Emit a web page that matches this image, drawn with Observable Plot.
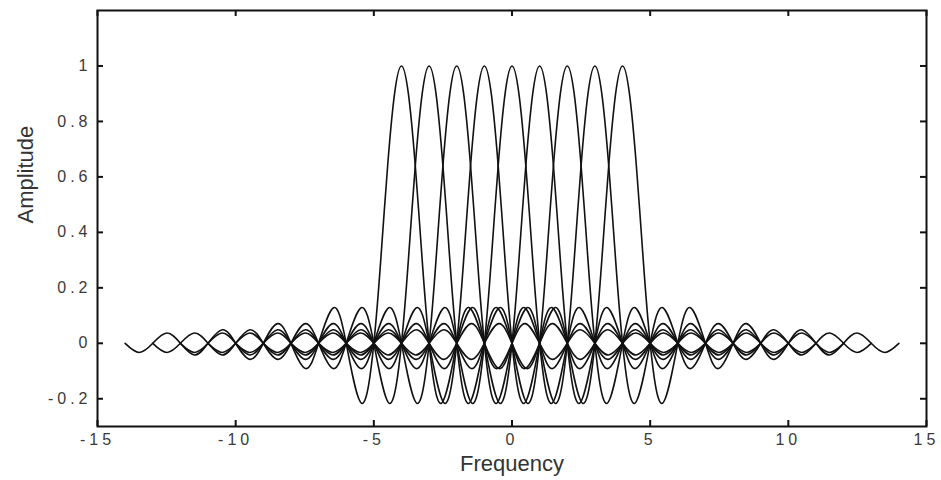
<!DOCTYPE html>
<html>
<head>
<meta charset="utf-8">
<script src="https://cdn.jsdelivr.net/npm/d3@7"></script>
<script src="https://cdn.jsdelivr.net/npm/@observablehq/plot@0.6"></script>
<style>
  html, body { margin: 0; padding: 0; background: #fff; }
  g[aria-description="tick label"] text { letter-spacing: 4px; }
</style>
</head>
<body>
<div id="chart"></div>
<script>
// Sub-carrier centre frequencies (peaks at amplitude 1)
const centers = [-4, -3, -2, -1, 0, 1, 2, 3, 4];

// One-sided shape of each sub-carrier: offset from centre -> amplitude
const lobeOffsets    = [0, 0.25, 0.5, 0.75, 1, 1.43, 2, 2.46, 3, 3.47, 4, 4.48, 5, 5.48, 6, 6.48, 7, 7.49, 8, 8.49, 9, 9.49, 10];
const lobeAmplitudes = [1, 0.90, 0.64, 0.30, 0, -0.217, 0, 0.128, 0, -0.091, 0, 0.071, 0, -0.058, 0, 0.049, 0, -0.042, 0, 0.037, 0, -0.033, 0];

// Axis ticks
const xTicks = [-15, -10, -5, 0, 5, 10, 15];
const xTickLabels = ["-15", "-10", "-5", "0", "5", "10", "15"];
const yTicks = [-0.2, 0, 0.2, 0.4, 0.6, 0.8, 1];
const yTickLabels = ["-0.2", "0", "0.2", "0.4", "0.6", "0.8", "1"];

// Mirror the one-sided shape into a full symmetric curve
const shapeOffsets = [...lobeOffsets.slice(1).map(o => -o).reverse(), ...lobeOffsets];
const shapeAmps = [...lobeAmplitudes.slice(1).reverse(), ...lobeAmplitudes];

const rows = centers.flatMap(c => shapeOffsets.map((o, i) => ({carrier: c, f: c + o, a: shapeAmps[i]})));

const font = "'Liberation Sans', Arial, sans-serif";
const W = 941, H = 480, ML = 97, MR = 15, MT = 10, MB = 54;
const TICK = 6;
const frameW = W - ML - MR, frameH = H - MT - MB;

const chart = Plot.plot({
  width: W,
  height: H,
  marginLeft: ML,
  marginRight: MR,
  marginTop: MT,
  marginBottom: MB,
  style: {fontFamily: font, background: "#fff"},
  x: {domain: [-15, 15], axis: null},
  y: {domain: [-0.3, 1.2], axis: null},
  marks: [
    Plot.line(rows, {x: "f", y: "a", z: "carrier", curve: "natural", stroke: "#111", strokeWidth: 1.6}),
    // inward ticks on all four sides
    Plot.tickX(xTicks, {x: d => d, insetTop: frameH - TICK, stroke: "#111", strokeWidth: 2}),
    Plot.tickX(xTicks, {x: d => d, insetBottom: frameH - TICK, stroke: "#111", strokeWidth: 2}),
    Plot.tickY(yTicks, {y: d => d, insetRight: frameW - TICK, stroke: "#111", strokeWidth: 2}),
    Plot.tickY(yTicks, {y: d => d, insetLeft: frameW - TICK, stroke: "#111", strokeWidth: 2}),
    // tick labels
    Plot.text(xTicks, {x: d => d, frameAnchor: "bottom", dy: 18, text: (d, i) => xTickLabels[i], fontSize: 16, fill: "#3a3a3a", ariaDescription: "tick label"}),
    Plot.text(yTicks, {y: d => d, frameAnchor: "left", dx: -6, textAnchor: "end", text: (d, i) => yTickLabels[i], fontSize: 16, fill: "#3a3a3a", ariaDescription: "tick label"}),
    Plot.frame({stroke: "#111", strokeWidth: 2}),
    // axis titles
    Plot.text(["Frequency"], {frameAnchor: "bottom", dy: 44, text: d => d, fontSize: 22, fill: "#333"}),
    Plot.text(["Amplitude"], {frameAnchor: "left", dx: -72, dy: 5, rotate: -90, text: d => d, fontSize: 22, fill: "#333"})
  ]
});
document.getElementById("chart").appendChild(chart);
</script>
</body>
</html>
